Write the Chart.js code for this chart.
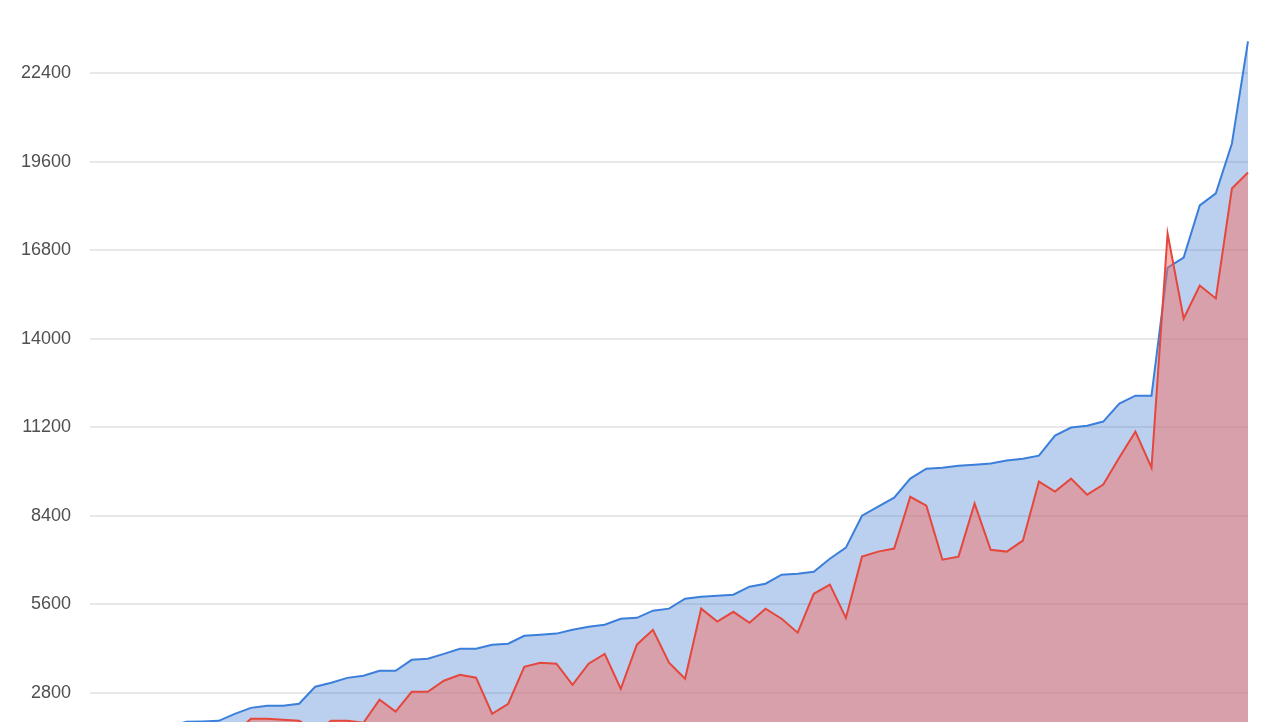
<!DOCTYPE html>
<html>
<head>
<meta charset="utf-8">
<script src="https://cdn.jsdelivr.net/npm/chart.js@4/dist/chart.umd.min.js"></script>
<style>
  html, body { margin: 0; padding: 0; background: #fff; overflow: hidden; }
  #wrap { position: absolute; left: 0; top: -45px; width: 1280px; height: 856px; }
</style>
</head>
<body>
<div id="wrap"><canvas id="myChart"></canvas></div>
<script>
// values (left end is cut off below the frame)

const blueValues = [
  700, 950, 1150, 1350, 1550, 1750, 1880, 1890, 1910, 2130,
  2320, 2390, 2390, 2450, 2990, 3115, 3270, 3340, 3495, 3495,
  3840, 3875, 4030, 4190, 4190, 4320, 4350, 4600, 4635, 4670,
  4790, 4890, 4950, 5140, 5170, 5395, 5460, 5775, 5840, 5870,
  5900, 6155, 6250, 6535, 6565, 6630, 7040, 7390, 8400, 8690,
  8970, 9575, 9890, 9920, 9985, 10015, 10050, 10145, 10205, 10300,
  10935, 11190, 11250, 11380, 11950, 12200, 12200, 16250, 16570, 18220,
  18600, 20180, 23410
];

const redValues = [
  300, 500, 650, 800, 950, 1100, 1250, 1350, 1450, 1500,
  1975, 1975, 1945, 1910, 1600, 1910, 1910, 1850, 2580, 2200,
  2830, 2830, 3180, 3370, 3275, 2135, 2450, 3620, 3750, 3720,
  3050, 3720, 4030, 2925, 4320, 4790, 3750, 3240, 5460, 5050,
  5360, 5015, 5460, 5140, 4700, 5930, 6220, 5170, 7105, 7265,
  7360, 9000, 8720, 7010, 7105, 8785, 7325, 7265, 7610, 9480,
  9165, 9575, 9065, 9385, 10240, 11060, 9920, 17330, 14640, 15685,
  15275, 18755, 19260
];

const labels = blueValues.map((v, i) => String(i + 1));

const yMin = 0;
const yMax = 25200;
const yStep = 2800;

const data = {
  labels: labels,
  datasets: [
    {
      label: 'red',
      data: redValues,
      borderColor: '#e5473d',
      backgroundColor: 'rgba(245, 112, 101, 0.5)',
      borderWidth: 2,
      fill: 'origin',
      pointRadius: 0,
      tension: 0,
      order: 0,
    },
    {
      label: 'blue',
      data: blueValues,
      borderColor: '#3b7fdb',
      backgroundColor: 'rgba(60, 120, 210, 0.35)',
      borderWidth: 2,
      fill: 'origin',
      pointRadius: 0,
      tension: 0,
      order: 1,
    },
  ]
};

const config = {
  type: 'line',
  data: data,
  options: {
    responsive: true,
    maintainAspectRatio: false,
    animation: false,
    layout: {
      padding: { top: 0, bottom: 0, left: 2, right: 32 }
    },
    plugins: {
      legend: { display: false },
      tooltip: { enabled: false },
    },
    scales: {
      x: {
        display: false,
      },
      y: {
        min: yMin,
        max: yMax,
        border: { display: false },
        grid: {
          color: '#e8e8e8',
          lineWidth: 2,
          drawTicks: false,
        },
        ticks: {
          stepSize: yStep,
          padding: 19,
          color: '#505050',
          font: { family: "'Liberation Sans', Arial, sans-serif", size: 18 },
          callback: (v) => String(v),
        },
      },
    }
  },
};

var myChart = new Chart(
  document.getElementById('myChart'),
  config
);
</script>
</body>
</html>
